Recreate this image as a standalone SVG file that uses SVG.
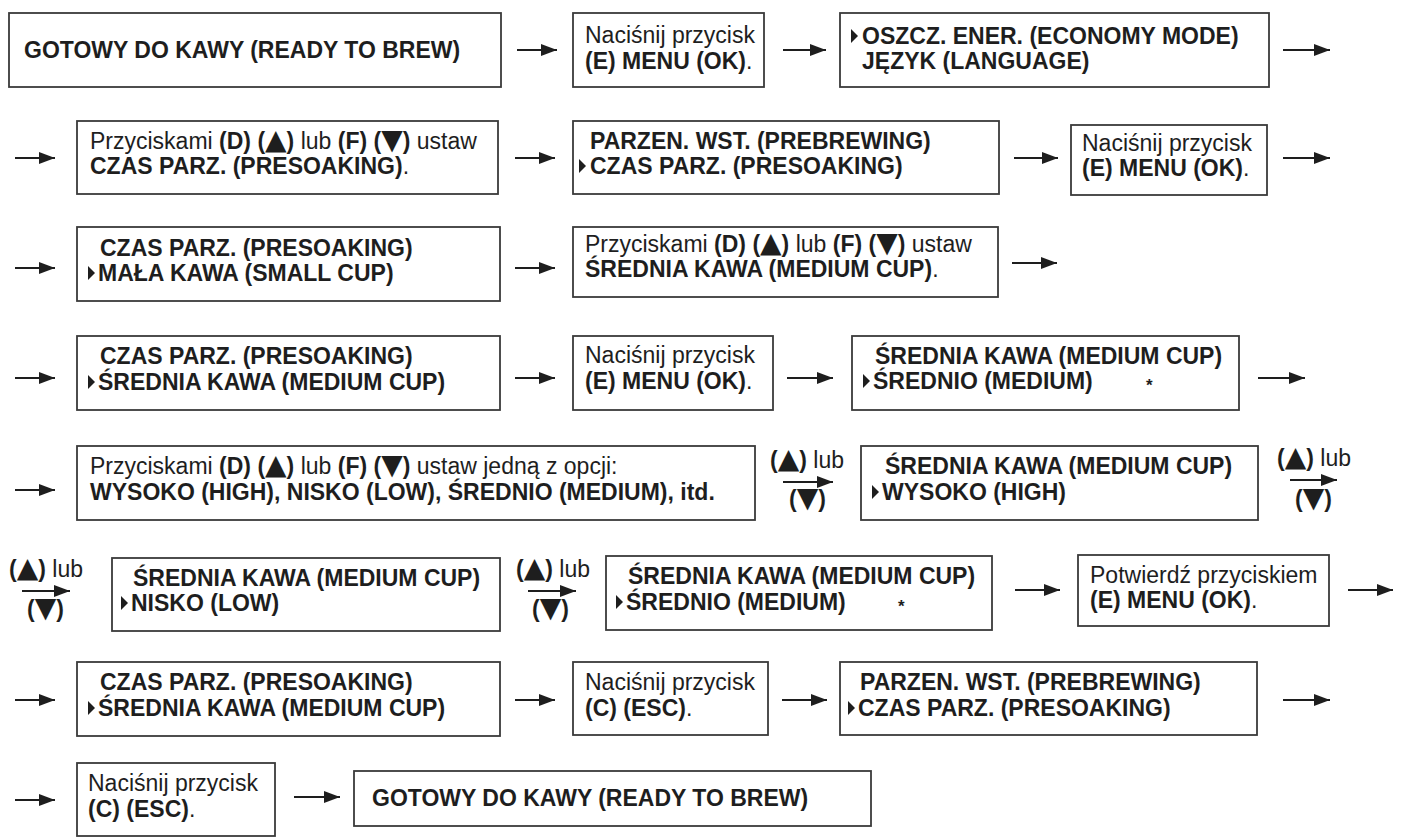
<svg xmlns="http://www.w3.org/2000/svg" width="1401" height="837" viewBox="0 0 1401 837">
<style>
text{font-family:"Liberation Sans",Arial,sans-serif;font-size:23px;fill:#1e1e1e}
.b{font-weight:bold}
tspan.t{font-family:"DejaVu Sans",sans-serif;font-size:28px;font-weight:normal}
.s{font-size:17px;font-weight:bold}
rect.n{fill:#fff;stroke:#3a3a3a;stroke-width:1.8}
.p{fill:#1e1e1e}
.c line{stroke:#1e1e1e;stroke-width:2.2;marker-end:url(#ah)}
</style>
<defs>
<marker id="ah" viewBox="0 0 16 12" refX="16" refY="6" markerWidth="16" markerHeight="12" orient="auto" markerUnits="userSpaceOnUse"><path d="M0,0 L16,6 L0,12 Z" fill="#1e1e1e"/></marker>
</defs>
<rect width="1401" height="837" fill="#fff"/>

<g id="connectors" class="c">
<line x1="517" y1="50" x2="557" y2="50"/>
<line x1="783" y1="50" x2="826" y2="50"/>
<line x1="1283" y1="50" x2="1330" y2="50"/>
<line x1="15" y1="158" x2="55" y2="158"/>
<line x1="515" y1="158" x2="555" y2="158"/>
<line x1="1014" y1="158" x2="1058" y2="158"/>
<line x1="1283" y1="158" x2="1330" y2="158"/>
<line x1="15" y1="268" x2="55" y2="268"/>
<line x1="515" y1="268" x2="555" y2="268"/>
<line x1="1012" y1="263" x2="1057" y2="263"/>
<line x1="15" y1="378" x2="55" y2="378"/>
<line x1="515" y1="378" x2="555" y2="378"/>
<line x1="787" y1="378" x2="833" y2="378"/>
<line x1="1258" y1="378" x2="1305" y2="378"/>
<line x1="15" y1="490" x2="55" y2="490"/>
<line x1="783" y1="482" x2="833" y2="482"/>
<line x1="1290" y1="480" x2="1337" y2="480"/>
<line x1="22" y1="591" x2="70" y2="591"/>
<line x1="528" y1="591" x2="576" y2="591"/>
<line x1="1015" y1="590" x2="1060" y2="590"/>
<line x1="1348" y1="590" x2="1393" y2="590"/>
<line x1="15" y1="700" x2="55" y2="700"/>
<line x1="515" y1="700" x2="555" y2="700"/>
<line x1="782" y1="700" x2="827" y2="700"/>
<line x1="1283" y1="700" x2="1330" y2="700"/>
<line x1="15" y1="800" x2="55" y2="800"/>
<line x1="294" y1="797" x2="340" y2="797"/>
</g>

<g id="connector-labels">
<text x="770" y="468"><tspan class="b">(<tspan class="t">▲</tspan>)</tspan> lub</text>
<text x="789" y="507" class="b">(<tspan class="t">▼</tspan>)</text>
<text x="1277" y="466"><tspan class="b">(<tspan class="t">▲</tspan>)</tspan> lub</text>
<text x="1295" y="507" class="b">(<tspan class="t">▼</tspan>)</text>
<text x="9" y="577"><tspan class="b">(<tspan class="t">▲</tspan>)</tspan> lub</text>
<text x="27" y="617" class="b">(<tspan class="t">▼</tspan>)</text>
<text x="516" y="577"><tspan class="b">(<tspan class="t">▲</tspan>)</tspan> lub</text>
<text x="532" y="617" class="b">(<tspan class="t">▼</tspan>)</text>
</g>

<g id="nA"><rect class="n" x="9" y="13" width="492" height="74"/>
<text x="24" y="58" class="b">GOTOWY DO KAWY (READY TO BREW)</text></g>

<g id="nB"><rect class="n" x="573" y="13" width="191" height="74"/>
<text x="585" y="43">Naciśnij przycisk</text>
<text x="585" y="69" class="b">(E) MENU (OK)<tspan font-weight="normal">.</tspan></text></g>

<g id="nC"><rect class="n" x="840" y="13" width="429" height="74"/>
<polygon class="p" points="851,29 858,36 851,43"/>
<text x="862" y="44" class="b">OSZCZ. ENER. (ECONOMY MODE)</text>
<text x="862" y="69" class="b">JĘZYK (LANGUAGE)</text></g>

<g id="nD"><rect class="n" x="77" y="121" width="421" height="73"/>
<text x="90" y="149">Przyciskami <tspan class="b">(D) (<tspan class="t">▲</tspan>)</tspan> lub <tspan class="b">(F) (<tspan class="t">▼</tspan>)</tspan> ustaw</text>
<text x="90" y="174" class="b">CZAS PARZ. (PRESOAKING)<tspan font-weight="normal">.</tspan></text></g>

<g id="nE"><rect class="n" x="573" y="121" width="426" height="73"/>
<text x="590" y="149" class="b">PARZEN. WST. (PREBREWING)</text>
<polygon class="p" points="579,159 586,166 579,173"/>
<text x="590" y="174" class="b">CZAS PARZ. (PRESOAKING)</text></g>

<g id="nF"><rect class="n" x="1071" y="125" width="196" height="70"/>
<text x="1082" y="151">Naciśnij przycisk</text>
<text x="1082" y="176" class="b">(E) MENU (OK)<tspan font-weight="normal">.</tspan></text></g>

<g id="nG"><rect class="n" x="77" y="227" width="423" height="74"/>
<text x="100" y="256" class="b">CZAS PARZ. (PRESOAKING)</text>
<polygon class="p" points="88,266 95,273 88,280"/>
<text x="98" y="281" class="b">MAŁA KAWA (SMALL CUP)</text></g>

<g id="nH"><rect class="n" x="573" y="227" width="425" height="70"/>
<text x="585" y="252">Przyciskami <tspan class="b">(D) (<tspan class="t">▲</tspan>)</tspan> lub <tspan class="b">(F) (<tspan class="t">▼</tspan>)</tspan> ustaw</text>
<text x="585" y="277" class="b">ŚREDNIA KAWA (MEDIUM CUP)<tspan font-weight="normal">.</tspan></text></g>

<g id="nI"><rect class="n" x="77" y="336" width="423" height="74"/>
<text x="100" y="364" class="b">CZAS PARZ. (PRESOAKING)</text>
<polygon class="p" points="88,375 95,382 88,389"/>
<text x="98" y="390" class="b">ŚREDNIA KAWA (MEDIUM CUP)</text></g>

<g id="nJ"><rect class="n" x="573" y="336" width="200" height="74"/>
<text x="585" y="363">Naciśnij przycisk</text>
<text x="585" y="389" class="b">(E) MENU (OK)<tspan font-weight="normal">.</tspan></text></g>

<g id="nK"><rect class="n" x="852" y="336" width="387" height="74"/>
<text x="875" y="364" class="b">ŚREDNIA KAWA (MEDIUM CUP)</text>
<polygon class="p" points="863,374 870,381 863,388"/>
<text x="873" y="389" class="b">ŚREDNIO (MEDIUM)</text>
<text x="1146" y="391" class="s">*</text></g>

<g id="nL"><rect class="n" x="77" y="446" width="678" height="74"/>
<text x="90" y="474">Przyciskami <tspan class="b">(D) (<tspan class="t">▲</tspan>)</tspan> lub <tspan class="b">(F) (<tspan class="t">▼</tspan>)</tspan> ustaw jedną z opcji:</text>
<text x="90" y="500" class="b">WYSOKO (HIGH), NISKO (LOW), ŚREDNIO (MEDIUM), itd.</text></g>

<g id="nM"><rect class="n" x="861" y="446" width="397" height="74"/>
<text x="885" y="474" class="b">ŚREDNIA KAWA (MEDIUM CUP)</text>
<polygon class="p" points="872,485 879,492 872,499"/>
<text x="882" y="500" class="b">WYSOKO (HIGH)</text></g>

<g id="nN"><rect class="n" x="112" y="558" width="388" height="73"/>
<text x="133" y="586" class="b">ŚREDNIA KAWA (MEDIUM CUP)</text>
<polygon class="p" points="121,596 128,603 121,610"/>
<text x="131" y="611" class="b">NISKO (LOW)</text></g>

<g id="nO"><rect class="n" x="606" y="556" width="386" height="74"/>
<text x="628" y="584" class="b">ŚREDNIA KAWA (MEDIUM CUP)</text>
<polygon class="p" points="616,595 623,602 616,609"/>
<text x="626" y="610" class="b">ŚREDNIO (MEDIUM)</text>
<text x="898" y="612" class="s">*</text></g>

<g id="nP"><rect class="n" x="1078" y="555" width="251" height="71"/>
<text x="1090" y="583">Potwierdź przyciskiem</text>
<text x="1090" y="608" class="b">(E) MENU (OK)<tspan font-weight="normal">.</tspan></text></g>

<g id="nQ"><rect class="n" x="77" y="662" width="423" height="74"/>
<text x="100" y="690" class="b">CZAS PARZ. (PRESOAKING)</text>
<polygon class="p" points="88,701 95,708 88,715"/>
<text x="98" y="716" class="b">ŚREDNIA KAWA (MEDIUM CUP)</text></g>

<g id="nR"><rect class="n" x="573" y="662" width="195" height="73"/>
<text x="585" y="690">Naciśnij przycisk</text>
<text x="585" y="716" class="b">(C) (ESC)<tspan font-weight="normal">.</tspan></text></g>

<g id="nS"><rect class="n" x="840" y="662" width="417" height="73"/>
<text x="860" y="690" class="b">PARZEN. WST. (PREBREWING)</text>
<polygon class="p" points="848,701 855,708 848,715"/>
<text x="858" y="716" class="b">CZAS PARZ. (PRESOAKING)</text></g>

<g id="nT"><rect class="n" x="77" y="763" width="198" height="73"/>
<text x="88" y="791">Naciśnij przycisk</text>
<text x="88" y="817" class="b">(C) (ESC)<tspan font-weight="normal">.</tspan></text></g>

<g id="nU"><rect class="n" x="354" y="771" width="517" height="55"/>
<text x="372" y="806" class="b">GOTOWY DO KAWY (READY TO BREW)</text></g>
</svg>
